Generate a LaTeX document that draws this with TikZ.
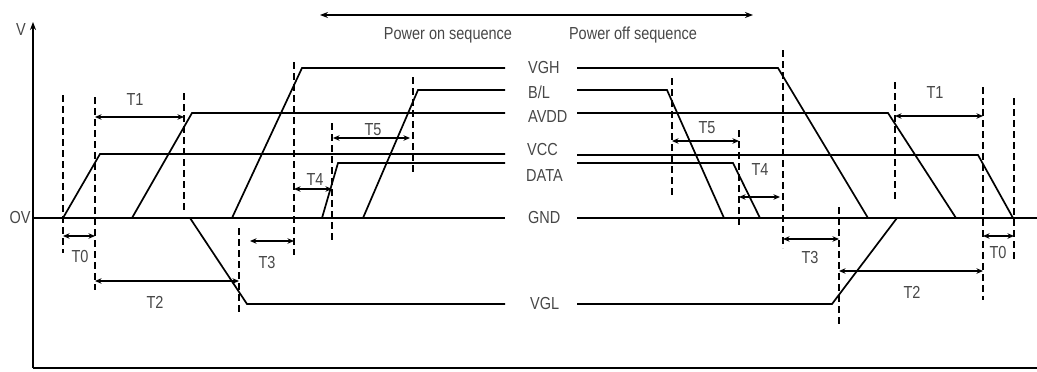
\documentclass[tikz,border=0pt]{standalone}
\usepackage{fontspec}
\setmainfont{Liberation Sans}
\usetikzlibrary{arrows.meta}
\newcommand{\tall}[1]{\scalebox{1}[1.2]{#1}}

\begin{document}
\begin{tikzpicture}[x=1pt,y=-1pt,
  sig/.style={line width=1.7pt},
  guide/.style={line width=1.6pt,dash pattern=on 7pt off 4pt},
  span/.style={{Stealth[length=6.5pt,width=5.5pt]}-{Stealth[length=6.5pt,width=5.5pt]},line width=1.5pt},
  lab/.style={text=black!72,font=\fontsize{14.5}{16}\selectfont,inner sep=0pt}]
\useasboundingbox (0,0) rectangle (1037,372);
% axes
\coordinate (O) at (33,368);
\draw[sig,-{Stealth[length=8pt,width=6pt]}] (O) -- (33,22);
\draw[sig] (O) -- (1037,368);
\node[lab] (v) at (21,30) {\tall{V}};
\node[lab] (ov) at (20,218) {\tall{OV}};
% sequence arrow
\draw[{Stealth[length=8pt,width=6pt]}-{Stealth[length=8pt,width=6pt]},line width=1.3pt] (320,15) -- (753,15);
\node[lab] (on) at (448,35) {\tall{Power on sequence}};
\node[lab] (off) at (633,35) {\tall{Power off sequence}};
% signal names
\node[lab,anchor=west] (vgh) at (528,68) {\tall{VGH}};
\node[lab,anchor=west] (bl) at (528,92) {\tall{B/L}};
\node[lab,anchor=west] (avdd) at (528,117) {\tall{AVDD}};
\node[lab,anchor=west] (vcc) at (527,150) {\tall{VCC}};
\node[lab,anchor=west] (data) at (526,176) {\tall{DATA}};
\node[lab,anchor=west] (gnd) at (528,218) {\tall{GND}};
\node[lab,anchor=west] (vgl) at (530,304) {\tall{VGL}};
% power on
\draw[sig] (33,218) -- (505,218);
\draw[sig] (63,218) -- (100,154) -- (505,154);
\draw[sig] (132,218) -- (192,113) -- (505,113);
\draw[sig] (232,218) -- (302,68) -- (505,68);
\draw[sig] (322,218) -- (338,163) -- (505,163);
\draw[sig] (363,218) -- (418,90) -- (505,90);
\draw[sig] (190,218) -- (247,304) -- (505,304);
% power off
\draw[sig] (577,218) -- (1037,218);
\draw[sig] (577,68) -- (778,68) -- (868,218);
\draw[sig] (577,90) -- (667,90) -- (724,218);
\draw[sig] (577,113) -- (888,113) -- (956,218);
\draw[sig] (577,155) -- (978,155) -- (1013,218);
\draw[sig] (577,163) -- (733,163) -- (760,218);
\draw[sig] (577,304) -- (832,304) -- (897,218);
% guides
\draw[guide] (63,95) -- (63,253);
\draw[guide] (95,97) -- (95,290);
\draw[guide] (184,93) -- (184,210);
\draw[guide] (239,228) -- (239,315);
\draw[guide] (294,62) -- (294,255);
\draw[guide] (332,123) -- (332,240);
\draw[guide] (413,77) -- (413,173);
\draw[guide] (672,78) -- (672,195);
\draw[guide] (739,130) -- (739,228);
\draw[guide] (783,50) -- (783,248);
\draw[guide] (839,207) -- (839,325);
\draw[guide] (895,82) -- (895,200);
\draw[guide] (983,87) -- (983,300);
\draw[guide] (1014,98) -- (1014,260);
% intervals, power on
\draw[span] (63,236) -- (95,236);
\node[lab] (t0a) at (80,257) {\tall{T0}};
\draw[span] (95,117) -- (184,117);
\node[lab] (t1a) at (135,100) {\tall{T1}};
\draw[span] (95,281) -- (239,281);
\node[lab] (t2a) at (155,302) {\tall{T2}};
\draw[span] (250,241) -- (294,241);
\node[lab] (t3a) at (267,263) {\tall{T3}};
\draw[span] (294,189) -- (332,189);
\node[lab] (t4a) at (315,180) {\tall{T4}};
\draw[span] (333,138) -- (410,138);
\node[lab] (t5a) at (373,130) {\tall{T5}};
% intervals, power off
\draw[span] (672,141) -- (739,141);
\node[lab] (t5b) at (707,128) {\tall{T5}};
\draw[span] (739,197) -- (780,197);
\node[lab] (t4b) at (760,170) {\tall{T4}};
\draw[span] (783,239) -- (839,239);
\node[lab] (t3b) at (810,258) {\tall{T3}};
\draw[span] (839,271) -- (983,271);
\node[lab] (t2b) at (912,292) {\tall{T2}};
\draw[span] (895,116) -- (983,116);
\node[lab] (t1b) at (935,93) {\tall{T1}};
\draw[span] (983,236) -- (1014,236);
\node[lab] (t0b) at (998,253) {\tall{T0}};
\end{tikzpicture}
\end{document}
